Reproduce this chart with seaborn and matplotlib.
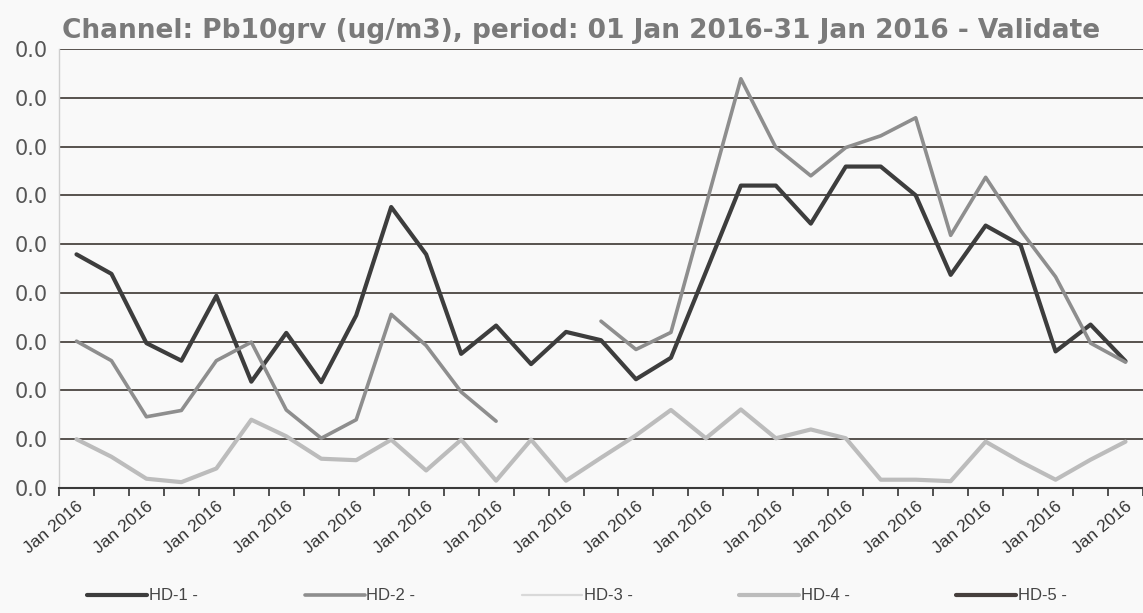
import matplotlib
matplotlib.use("Agg")
import matplotlib.pyplot as plt
from matplotlib.lines import Line2D
from matplotlib.ticker import FixedLocator, FormatStrFormatter
import seaborn as sns
import numpy as np
import pandas as pd

# values in ug/m3 (31 daily values, Jan 2016)
days = list(range(1, 32))
hd1 = [4.79, 4.39, 2.97, 2.61, 3.94, 2.18, 3.18, 2.17, 3.54, 5.76,
       4.79, 2.75, 3.33, 2.54, 3.20, 3.03, 2.23, 2.67, 4.43, 6.20,
       6.20, 5.42, 6.59, 6.59, 6.00, 4.37, 5.38, 4.98, 2.80, 3.35, 2.60]
hd2 = [3.01, 2.61, 1.46, 1.59, 2.61, 2.99, 1.60, 1.02, 1.40, 3.56,
       2.92, 1.97, 1.37, None, None, 3.42, 2.84, 3.19, 5.79, 8.39,
       6.98, 6.40, 6.98, 7.22, 7.59, 5.18, 6.37, 5.28, 4.33, 2.97, 2.58]
hd4 = [1.00, 0.64, 0.19, 0.12, 0.40, 1.40, 1.06, 0.60, 0.57, 0.99,
       0.36, 0.99, 0.15, 0.99, 0.15, 0.62, 1.08, 1.60, 1.02, 1.61,
       1.02, 1.20, 1.02, 0.17, 0.17, 0.14, 0.95, 0.54, 0.17, 0.58, 0.95]
series_names = ["HD-1 -", "HD-2 -", "HD-3 -", "HD-4 -", "HD-5 -"]
series_colors = ["#3d3d3d", "#8e8e8e", "#d9d9d9", "#bcbcbc", "#463f3d"]
series_widths = [3.0, 2.6, 1.6, 3.0, 3.0]
tick_label = "Jan 2016"
title = "Channel: Pb10grv (ug/m3), period: 01 Jan 2016-31 Jan 2016 - Validate"

scale = 0.001  # chart values are tiny, every gridline reads 0.0

rows = []
for name, vals in [("HD-1 -", hd1), ("HD-2 -", hd2), ("HD-4 -", hd4)]:
    seg = 0
    for d, v in zip(days, vals):
        if v is None:
            seg += 1
            continue
        rows.append({"day": d, "value": v * scale, "series": name, "seg": f"{name}{seg}"})
df = pd.DataFrame(rows)

sns.set_theme(style="white")
plt.rcParams["font.family"] = ["DejaVu Sans"]

fig = plt.figure(figsize=(11.43, 6.13), dpi=100, facecolor="#f9f9f9")
ax = fig.add_axes([59 / 1143, 1 - 488 / 613, 1 - 59 / 1143, (488 - 49) / 613])
ax.set_facecolor("#f9f9f9")

for name, col, lw in zip(series_names, series_colors, series_widths):
    sub = df[df["series"] == name]
    if sub.empty:
        continue
    sns.lineplot(data=sub, x="day", y="value", units="seg", estimator=None,
                 color=col, linewidth=lw, ax=ax, legend=False)

ax.set_xlim(0.5, 31.5)
ax.set_ylim(0, 9 * scale)
ax.yaxis.set_major_locator(FixedLocator(np.arange(10) * scale))
ax.yaxis.set_major_formatter(FormatStrFormatter("%.1f"))
ax.grid(axis="y", color="#4a4540", linewidth=1.3)
ax.grid(axis="x", visible=False)
ax.set_xlabel("")
ax.set_ylabel("")

ax.set_xticks(days[::2])
ax.set_xticklabels([tick_label] * len(days[::2]), rotation=40, ha="right",
                   rotation_mode="anchor", fontsize=12.5, color="#333333",
                   family="Liberation Sans")
ax.set_xticks(np.arange(0.5, 32, 1), minor=True)
ax.tick_params(axis="x", which="major", length=0, pad=8)
ax.tick_params(axis="x", which="minor", length=6, width=1.2, color="#333333", bottom=True)
ax.tick_params(axis="y", length=0, pad=8, labelsize=15, labelcolor="#555555")

for s in ["top", "right"]:
    ax.spines[s].set_visible(False)
ax.spines["left"].set_color("#cfcfcf")
ax.spines["left"].set_linewidth(1)
ax.spines["bottom"].set_color("#3a3a3a")
ax.spines["bottom"].set_linewidth(1.5)

fig.text(62 / 1143, 1 - 31 / 613, title, ha="left", va="center", fontsize=19,
         color="#7a7a7a", weight="bold")

handles = [Line2D([0], [0], color=c, linewidth=w) for c, w in zip(series_colors, series_widths)]
fig.legend(handles, series_names, loc="center", bbox_to_anchor=(0.505, 1 - 596 / 613),
           ncol=5, frameon=False, handlelength=3.6, handletextpad=0.1,
           columnspacing=6.4, prop={"family": "Liberation Sans", "size": 12},
           labelcolor="#444444")

fig.savefig("out.png", dpi=100, facecolor=fig.get_facecolor())
